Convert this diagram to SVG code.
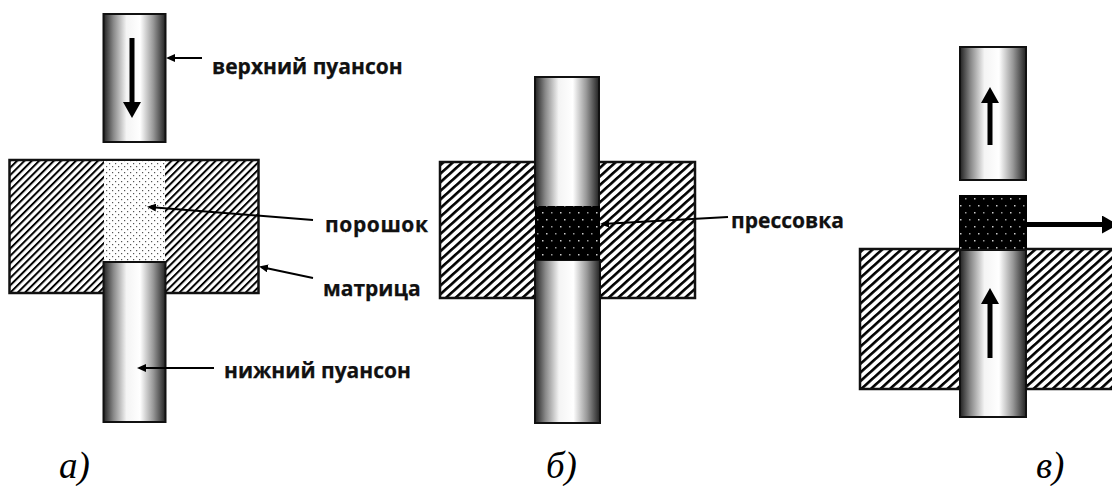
<svg xmlns="http://www.w3.org/2000/svg" width="1112" height="486" viewBox="0 0 1112 486">
<style>
.lbl{font-family:"Open Sans","Noto Sans","DejaVu Sans",sans-serif;font-weight:700;font-size:21px;fill:#111;stroke:#111;stroke-width:.25}
.cap{font-family:"Liberation Serif",serif;font-style:italic;font-size:37px;fill:#000}
.box{stroke:#111;stroke-width:2.500}
.punch{fill:url(#metal);stroke:#111;stroke-width:2}
.lead{fill:none;stroke:#000;stroke-width:2}
.thick{fill:none;stroke:#000;stroke-width:5}
</style>
<defs>
<linearGradient id="metal" x1="0" x2="1" y1="0" y2="0">
<stop offset="0" stop-color="#222"/><stop offset=".16" stop-color="#888"/><stop offset=".37" stop-color="#f4f4f4"/><stop offset=".59" stop-color="#fff"/><stop offset=".8" stop-color="#999"/><stop offset="1" stop-color="#222"/>
</linearGradient>
<pattern id="hatchA" width="5.2" height="5.2" patternUnits="userSpaceOnUse" patternTransform="rotate(-45)">
<rect width="5.2" height="5.2" fill="#fff"/><rect width="5.2" height="2" fill="#000"/>
</pattern>
<pattern id="hatchB" width="6.4" height="6.4" patternUnits="userSpaceOnUse" patternTransform="rotate(-42)">
<rect width="6.4" height="6.4" fill="#fff"/><rect width="6.4" height="2.6" fill="#000"/>
</pattern>
<pattern id="powder" width="6" height="6" patternUnits="userSpaceOnUse">
<rect width="6" height="6" fill="#fff"/><rect x="1" y="1" width="1.2" height="1.2" fill="#555"/><rect x="4" y="4" width="1.2" height="1.2" fill="#555"/>
</pattern>
<pattern id="pressed" width="18" height="14" patternUnits="userSpaceOnUse">
<rect width="18" height="14" fill="#000"/><rect x="2" y="2" width="1.5" height="1.5" fill="#ccc"/><rect x="11" y="2" width="1.5" height="1.5" fill="#999"/><rect x="6" y="9" width="1.5" height="1.5" fill="#ccc"/><rect x="15" y="9" width="1.5" height="1.5" fill="#999"/>
</pattern>
<marker id="small" markerWidth="10" markerHeight="8" refX="7" refY="4" orient="auto" markerUnits="userSpaceOnUse">
<path d="M0 0L9 4L0 8Z" fill="#000"/>
</marker>
<marker id="big" markerWidth="18" markerHeight="18" refX="6" refY="9" orient="auto" markerUnits="userSpaceOnUse">
<path d="M0 0L16 9L0 18Z" fill="#000"/>
</marker>
</defs>

<g id="die-a">
<rect class="box" x="9.500" y="160" width="249" height="133" fill="url(#hatchA)"/>
</g>
<g id="powder-a">
<rect x="104" y="161" width="61" height="101" fill="url(#powder)"/>
</g>
<g id="upper-punch-a">
<rect class="punch" x="103.500" y="14" width="62" height="128"/>
</g>
<g id="lower-punch-a">
<rect class="punch" x="103.500" y="262" width="62" height="160"/>
</g>

<g id="die-b">
<rect class="box" x="440" y="162" width="255" height="136" fill="url(#hatchB)"/>
</g>
<g id="upper-punch-b">
<rect class="punch" x="535" y="77" width="64" height="130"/>
</g>
<g id="lower-punch-b">
<rect class="punch" x="535" y="260" width="65" height="163"/>
</g>
<g id="compact-b">
<rect x="535" y="206" width="65" height="54" fill="url(#pressed)"/>
</g>

<g id="die-c">
<rect class="box" x="860" y="249" width="262" height="140" fill="url(#hatchB)"/>
</g>
<g id="upper-punch-c">
<rect class="punch" x="960" y="47" width="66" height="133"/>
</g>
<g id="compact-c">
<rect x="959" y="195" width="68" height="55" fill="url(#pressed)"/>
</g>
<g id="lower-punch-c">
<rect class="punch" x="960" y="250" width="66" height="167"/>
</g>

<g id="connectors">
<path class="thick" d="M132 38V108" marker-end="url(#big)"/>
<path class="thick" d="M990 358V298" marker-end="url(#big)"/>
<path class="thick" d="M990 145V97" marker-end="url(#big)"/>
<path class="thick" d="M1027 224.500H1108" marker-end="url(#big)"/>
<path class="lead" d="M202 58H168" marker-end="url(#small)"/>
<path class="lead" d="M313 220L149 207" marker-end="url(#small)"/>
<path class="lead" d="M313 278L261 267" marker-end="url(#small)"/>
<path class="lead" d="M214 368H139" marker-end="url(#small)"/>
<path class="lead" d="M728 217L602 224" marker-end="url(#small)"/>
</g>

<g id="labels">
<text class="lbl" x="212" y="74">верхний пуансон</text>
<text class="lbl" x="325" y="232" textLength="103">порошок</text>
<text class="lbl" x="323" y="296">матрица</text>
<text class="lbl" x="224" y="378">нижний пуансон</text>
<text class="lbl" x="731" y="228">прессовка</text>
<text class="cap" x="59" y="478">а)</text>
<text class="cap" x="546" y="478">б)</text>
<text class="cap" x="1036" y="478">в)</text>
</g>
</svg>
